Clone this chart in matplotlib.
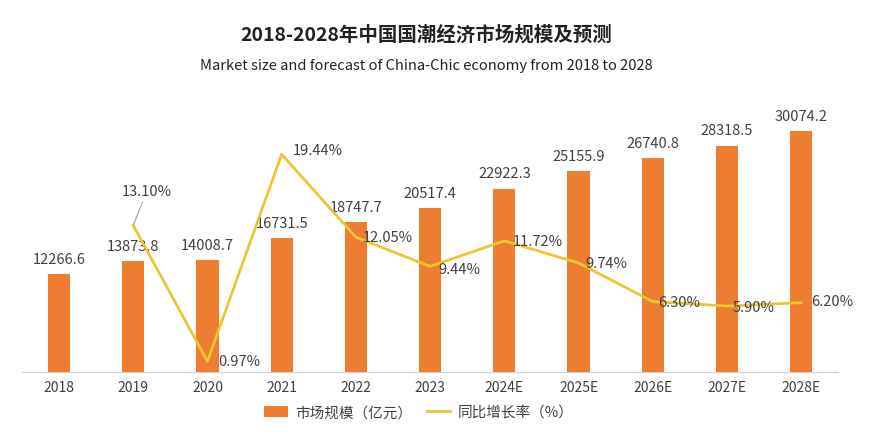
import matplotlib
matplotlib.use("Agg")
import matplotlib.pyplot as plt
from matplotlib.patches import Patch
from matplotlib.lines import Line2D

plt.rcParams['font.family'] = ['Noto Sans CJK SC', 'DejaVu Sans']

categories = ["2018", "2019", "2020", "2021", "2022", "2023", "2024E", "2025E", "2026E", "2027E", "2028E"]
market_size = [12266.6, 13873.8, 14008.7, 16731.5, 18747.7, 20517.4, 22922.3, 25155.9, 26740.8, 28318.5, 30074.2]
growth_years = ["2019", "2020", "2021", "2022", "2023", "2024E", "2025E", "2026E", "2027E", "2028E"]
growth_rate = [13.10, 0.97, 19.44, 12.05, 9.44, 11.72, 9.74, 6.30, 5.90, 6.20]

title = "2018-2028年中国国潮经济市场规模及预测"
subtitle = "Market size and forecast of China-Chic economy from 2018 to 2028"
bar_label = "市场规模（亿元）"
line_label = "同比增长率（%）"

BAR = "#ED7D31"
LINE = "#EAC535"
TXT = "#404040"

fig = plt.figure(figsize=(8.76, 4.39), dpi=100)
ax = fig.add_axes([0.025, 0.150, 0.932, 0.638])
x = list(range(len(categories)))
ax.bar(x, market_size, width=0.3, color=BAR, zorder=2)
ax.set_xlim(-0.5, len(categories) - 0.5)
ax.set_ylim(0, 35000)
ax.set_yticks([])
for s in ["top", "right", "left"]:
    ax.spines[s].set_visible(False)
ax.spines["bottom"].set_color("#D0D0D0")
ax.set_xticks(x)
ax.set_xticklabels(categories, fontsize=10, color=TXT)
ax.tick_params(axis="x", length=0, pad=6)

for xi, v in zip(x, market_size):
    ax.annotate(f"{v:.1f}", (xi, v), xytext=(0, 6), textcoords="offset points",
                ha="center", va="bottom", fontsize=10.5, color=TXT)

ax2 = ax.twinx()
ax2.set_ylim(0, 25)
ax2.set_yticks([])
for s in ax2.spines.values():
    s.set_visible(False)
gx = [categories.index(c) for c in growth_years]
ax2.plot(gx, growth_rate, color=LINE, lw=2.0, zorder=3)

offsets = {
    "2019": (10, 20),
    "2020": (8, 0),
    "2021": (8, 3),
    "2022": (5, 0),
    "2023": (6, -2),
    "2024E": (6, 0),
    "2025E": (5, 0),
    "2026E": (4, 0),
    "2027E": (4, -1),
    "2028E": (7, 1),
}
for c, xi, v in zip(growth_years, gx, growth_rate):
    dx, dy = offsets[c]
    if c == "2019":
        ax2.annotate(f"{v:.2f}%", (xi, v), xytext=(dx, dy), textcoords="offset points",
                     ha="center", va="bottom", fontsize=10.5, color=TXT,
                     arrowprops=dict(arrowstyle="-", color="#A0A0A0", lw=0.8, shrinkA=1, shrinkB=1))
    else:
        ax2.annotate(f"{v:.2f}%", (xi, v), xytext=(dx, dy), textcoords="offset points",
                     ha="left", va="center", fontsize=10.5, color=TXT)

fig.text(0.487, 0.921, title, ha="center", va="center", fontsize=14, fontweight="bold", color="#222222")
fig.text(0.487, 0.849, subtitle, ha="center", va="center", fontsize=10.6, color="#222222")

handles = [Patch(facecolor=BAR, edgecolor="none"), Line2D([0], [0], color=LINE, lw=2.0)]
fig.legend(handles, [bar_label, line_label], loc="center", bbox_to_anchor=(0.478, 0.058), ncol=2,
           frameon=False, fontsize=10.5, labelcolor=TXT, handlelength=1.6, handleheight=0.7,
           columnspacing=1.0, handletextpad=0.5)

fig.savefig("out.png", dpi=100, facecolor="white")
